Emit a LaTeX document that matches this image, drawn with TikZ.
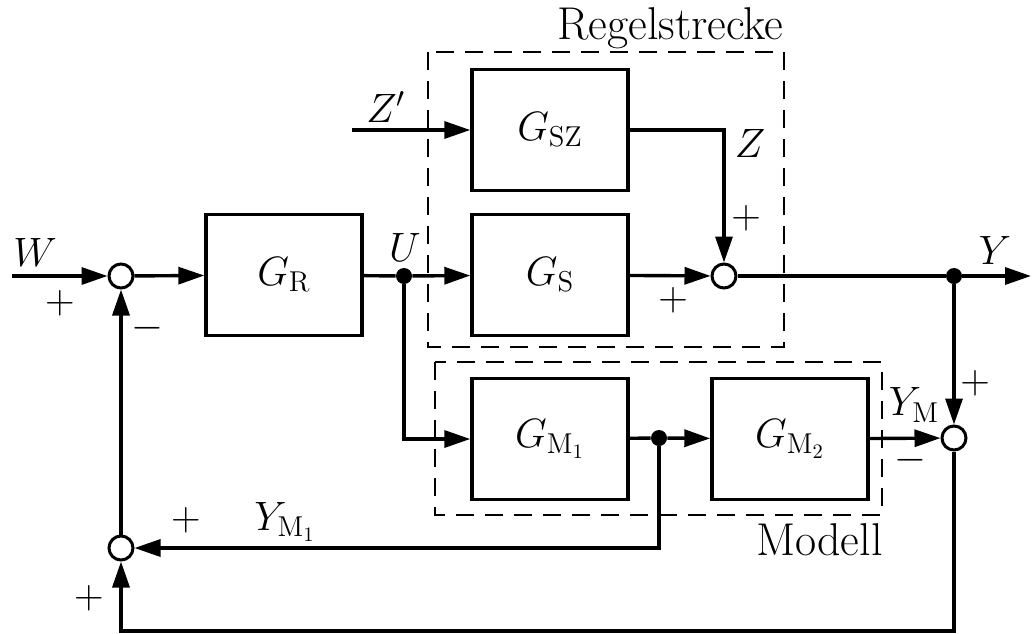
\RequirePackage{fix-cm}
\documentclass[tikz,border=0pt]{standalone}
\usepackage{fontspec}
\usetikzlibrary{arrows.meta}
\tikzset{
  blk/.style={draw, line width=1.7pt, minimum width=78pt, minimum height=60.5pt, inner sep=0pt},
  sumc/.style={draw, circle, line width=1.5pt, minimum size=12pt, inner sep=0pt, fill=white},
  jdot/.style={circle, fill=black, minimum size=8pt, inner sep=0pt},
  conn/.style={line width=1.7pt},
  arr/.style={conn, -{Triangle[length=13pt,width=8.5pt]}},
  grp/.style={draw, line width=1.4pt, dash pattern=on 9pt off 5.5pt},
  lbl/.style={inner sep=0pt},
  txt/.style={inner sep=0pt, font=\fontsize{23}{27}\selectfont},
}
\begin{document}
\begin{tikzpicture}[x=0.5pt,y=-0.5pt, font=\fontsize{20.5}{24}\selectfont]
\useasboundingbox (0,0) rectangle (1033,633);
% groups
\draw[grp] (428,52) rectangle (784,347);
\draw[grp] (435,362) rectangle (882,515);
\node[txt, anchor=base east] (treg) at (784,39) {Regelstrecke};
\node[txt, anchor=base east] (tmod) at (883,555) {Modell};
% blocks
\node[blk] (GR) at (284,275) {$G_{\mathrm{R}}$};
\node[blk] (GSZ) at (550,130) {$G_{\mathrm{SZ}}$};
\node[blk] (GS) at (550,275) {$G_{\mathrm{S}}$};
\node[blk] (GM1) at (550,439) {$G_{\mathrm{M}_1}$};
\node[blk] (GM2) at (790,439) {$G_{\mathrm{M}_2}$};
% sums
\node[sumc] (s1) at (121,276) {};
\node[sumc] (s2) at (724,276) {};
\node[sumc] (s3) at (954,438) {};
\node[sumc] (s4) at (121,548) {};
% junctions
\node[jdot] (u) at (404,276) {};
\node[jdot] (yj) at (954,276) {};
\node[jdot] (mj) at (659,438) {};
% free ends
\coordinate (win) at (12,276);
\coordinate (zin) at (352,130);
\coordinate (yout) at (1031,276);
\coordinate (bl) at (121,631);
% connectors
\draw[arr] (win) -- (s1);
\draw[arr] (s1) -- (GR);
\draw[conn] (GR) -- (u);
\draw[arr] (u) -- (GS);
\draw[arr] (zin) -- (GSZ);
\draw[arr] (GSZ.east) -| (s2);
\draw[arr] (GS) -- (s2);
\draw[conn] (s2) -- (yj);
\draw[arr] (yj) -- (yout);
\draw[arr] (yj) -- (s3);
\draw[arr] (u) |- (GM1);
\draw[conn] (GM1) -- (mj);
\draw[arr] (mj) -- (GM2);
\draw[arr] (GM2) -- (s3);
\draw[arr] (mj) |- (s4);
\draw[arr] (s3) |- (bl) -- (s4);
\draw[arr] (s4) -- (s1);
% labels
\node[lbl] (lW) at (35,252) {$W$};
\node[lbl] (p1) at (60,303) {$+$};
\node[lbl] (m1) at (147,328) {$-$};
\node[lbl] (lU) at (405,247) {$U$};
\node[lbl] (lZp) at (386,107) {$Z'$};
\node[lbl] (lZ) at (750,143) {$Z$};
\node[lbl] (p2a) at (746,218) {$+$};
\node[lbl] (p2b) at (673,300) {$+$};
\node[lbl] (lY) at (995,250) {$Y$};
\node[lbl] (lYM) at (914,405) {$Y_{\mathrm{M}}$};
\node[lbl] (p3) at (975,383) {$+$};
\node[lbl] (m3) at (910,460) {$-$};
\node[lbl] (lYM1) at (285,522) {$Y_{\mathrm{M}_1}$};
\node[lbl] (p4a) at (186,520) {$+$};
\node[lbl] (p4b) at (89,598) {$+$};
\end{tikzpicture}
\end{document}
